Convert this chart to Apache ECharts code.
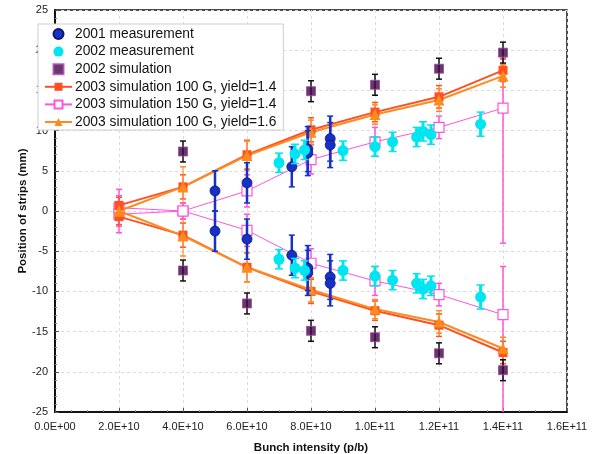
<!DOCTYPE html>
<html>
<head>
<meta charset="utf-8">
<script src="https://cdn.jsdelivr.net/npm/echarts@6/dist/echarts.min.js"></script>
<style>html,body{margin:0;padding:0;background:#fff}#c{width:597px;height:454px}</style>
</head>
<body>
<div id="c"></div>
<script>
// ---- tick labels ----
const xTickLabels = ['0.0E+00','2.0E+10','4.0E+10','6.0E+10','8.0E+10','1.0E+11','1.2E+11','1.4E+11','1.6E+11'];
const yTickLabels = ['-25','-20','-15','-10','-5','0','5','10','15','20','25'];

// ---- 2001 measurement ----
const m01X   = [5.0e10, 6.0e10, 7.4e10, 7.9e10, 7.9e10, 8.6e10, 8.6e10];
const m01Up  = [2.5, 3.5, 5.5, 7.7, 7.2, 9.0, 8.2];
const m01Dn  = [-2.5, -3.5, -5.5, -7.1, -7.7, -8.2, -9.0];
const m01Err = [2.5, 2.5, 2.5, 2.8, 2.8, 2.8, 2.8];

// ---- 2002 measurement ----
const m02X   = [7.0e10, 7.5e10, 7.8e10, 9.0e10, 1.0e11, 1.055e11, 1.13e11, 1.15e11, 1.175e11, 1.33e11];
const m02Up  = [6.0, 7.1, 7.6, 7.5, 8.0, 8.6, 9.2, 9.9, 9.5, 10.8];
const m02Dn  = [-6.0, -7.1, -7.4, -7.4, -8.1, -8.6, -9.0, -9.7, -9.3, -10.7];
const m02Err = [1.2, 1.2, 1.2, 1.2, 1.2, 1.2, 1.2, 1.2, 1.2, 1.5];

// ---- 2002 simulation ----
const s02X   = [4e10, 6e10, 8e10, 1e11, 1.2e11, 1.4e11];
const s02Up  = [7.4, 11.5, 14.9, 15.7, 17.7, 19.7];
const s02Dn  = [-7.4, -11.5, -14.9, -15.7, -17.7, -19.8];
const s02Err = [1.3, 1.3, 1.3, 1.3, 1.3, 1.3];

// ---- 2003 simulations ----
const simX = [2e10, 4e10, 6e10, 8e10, 1e11, 1.2e11, 1.4e11];
const s100a14Up  = [0.7, 3.0, 7.0, 10.1, 12.3, 14.2, 17.5];
const s100a14Dn  = [-0.7, -3.0, -7.0, -10.0, -12.4, -14.2, -17.6];
const s100a14Err = [1.0, 1.5, 1.8, 1.5, 1.2, 1.4, 1.4];

const s150Up       = [0.4, 0.0, 2.5, 6.4, 8.6, 10.4, 12.8];
const s150Dn       = [-0.4, 0.0, -2.4, -6.5, -8.7, -10.4, -12.9];
const s150ErrPlus  = [2.3, 1.0, 2.0, 1.8, 1.8, 1.4, 6.2];
const s150ErrMinus = [2.3, 1.0, 2.0, 1.8, 1.8, 1.4, 16.8];
const s150DnErrPlus  = [2.3, 1.0, 2.0, 1.8, 1.8, 1.4, 6.0];
const s150DnErrMinus = [2.3, 1.0, 2.0, 1.8, 1.8, 1.4, 13.5];

const s100a16Up  = [0.0, 3.0, 6.9, 9.8, 12.0, 13.8, 16.8];
const s100a16Dn  = [0.0, -3.1, -7.0, -9.8, -12.2, -13.8, -17.1];
const s100a16Err = [1.0, 2.5, 1.8, 1.5, 1.2, 1.4, 1.4];

const names = ['2001 measurement','2002 measurement','2002 simulation',
  '2003 simulation 100 G, yield=1.4','2003 simulation 150 G, yield=1.4','2003 simulation 100 G, yield=1.6'];

const C01 = '#1630c8', C02 = '#00e6f0', CS02 = '#3a0c3e', CR = '#ff5020', CM = '#ff55dd', CO = '#ff8a1e';

function pts(xs, ys) { return xs.map((x, i) => [x, ys[i]]); }
function errs(xs, ys, minus, plus) { return xs.map((x, i) => [x, ys[i] - minus[i], ys[i] + (plus || minus)[i]]); }

function errSeries(data, color, width, cap, z) {
  return {
    type: 'custom', name: '_err', z: z, silent: true,
    renderItem: function (params, api) {
      const cs = params.coordSys;
      const x = api.value(0), lo = api.value(1), hi = api.value(2);
      const pLo = api.coord([x, lo]), pHi = api.coord([x, hi]);
      const top = cs.y, bot = cs.y + cs.height;
      const yTop = Math.max(top, pHi[1]), yBot = Math.min(bot, pLo[1]);
      const ch = [{ type: 'line', shape: { x1: pLo[0], y1: yBot, x2: pLo[0], y2: yTop }, style: { stroke: color, lineWidth: width } }];
      if (pHi[1] >= top) ch.push({ type: 'line', shape: { x1: pHi[0] - cap, y1: pHi[1], x2: pHi[0] + cap, y2: pHi[1] }, style: { stroke: color, lineWidth: 1.5 } });
      if (pLo[1] <= bot) ch.push({ type: 'line', shape: { x1: pLo[0] - cap, y1: pLo[1], x2: pLo[0] + cap, y2: pLo[1] }, style: { stroke: color, lineWidth: 1.5 } });
      return { type: 'group', children: ch };
    },
    data: data
  };
}

function lineSeries(name, ys, color, symbol, size, lw, z, empty) {
  return {
    type: 'line', name: name, data: pts(simX, ys), z: z,
    symbol: symbol, symbolSize: size,
    lineStyle: { color: color, width: lw },
    itemStyle: empty ? { color: '#fff', borderColor: color, borderWidth: 1.2, opacity: 1 } : { color: color, borderColor: color, borderWidth: 0 },
    emphasis: { disabled: true }
  };
}

const SQ = 'path://M0,0H10V10H0Z';

const series = [
  // error bars
  errSeries(errs(simX, s150Up, s150ErrMinus, s150ErrPlus), CM, 1.5, 3, 2),
  errSeries(errs(simX, s150Dn, s150DnErrMinus, s150DnErrPlus), CM, 1.5, 3, 2),
  errSeries(errs(simX, s100a14Up, s100a14Err), CR, 1, 3, 2),
  errSeries(errs(simX, s100a14Dn, s100a14Err), CR, 1, 3, 2),
  errSeries(errs(simX, s100a16Up, s100a16Err), CO, 1, 3, 2),
  errSeries(errs(simX, s100a16Dn, s100a16Err), CO, 1, 3, 2),
  errSeries(errs(s02X, s02Up, s02Err), '#111', 1.5, 3, 5),
  errSeries(errs(s02X, s02Dn, s02Err), '#111', 1.5, 3, 5),
  errSeries(errs(m01X, m01Up, m01Err), C01, 2.5, 3, 6),
  errSeries(errs(m01X, m01Dn, m01Err), C01, 2.5, 3, 6),
  errSeries(errs(m02X, m02Up, m02Err), C02, 3, 4, 7),
  errSeries(errs(m02X, m02Dn, m02Err), C02, 3, 4, 7),
  // lines
  lineSeries(names[4], s150Up, CM, 'rect', 10, 1, 3, true),
  lineSeries(names[4], s150Dn, CM, 'rect', 10, 1, 3, true),
  lineSeries(names[3], s100a14Up, CR, 'rect', 9, 2, 4),
  lineSeries(names[3], s100a14Dn, CR, 'rect', 9, 2, 4),
  lineSeries(names[5], s100a16Up, CO, 'triangle', 11, 2, 4),
  lineSeries(names[5], s100a16Dn, CO, 'triangle', 11, 2, 4),
  // scatter
  { type: 'scatter', name: names[2], data: pts(s02X, s02Up), symbol: 'rect', symbolSize: 9, z: 5,
    itemStyle: { color: CS02, borderColor: '#b23bb8', borderWidth: 1 } },
  { type: 'scatter', name: names[2], data: pts(s02X, s02Dn), symbol: 'rect', symbolSize: 9, z: 5,
    itemStyle: { color: CS02, borderColor: '#b23bb8', borderWidth: 1 } },
  { type: 'scatter', name: names[1], data: pts(m02X, m02Up), symbol: 'circle', symbolSize: 11, z: 7,
    itemStyle: { color: C02, opacity: 1 } },
  { type: 'scatter', name: names[1], data: pts(m02X, m02Dn), symbol: 'circle', symbolSize: 11, z: 7,
    itemStyle: { color: C02, opacity: 1 } },
  { type: 'scatter', name: names[0], data: pts(m01X, m01Up), symbol: 'circle', symbolSize: 10, z: 6,
    itemStyle: { color: C01, borderColor: '#0b1670', borderWidth: 0.8, opacity: 1 } },
  { type: 'scatter', name: names[0], data: pts(m01X, m01Dn), symbol: 'circle', symbolSize: 10, z: 6,
    itemStyle: { color: C01, borderColor: '#0b1670', borderWidth: 0.8, opacity: 1 } }
];

const FONT = 'Liberation Sans, Arial, Helvetica, sans-serif';
const chart = echarts.init(document.getElementById('c'), null, { renderer: 'canvas' });
chart.setOption({
  animation: false,
  backgroundColor: '#fff',
  textStyle: { fontFamily: FONT },
  grid: { left: 55, right: 30, top: 10, bottom: 42, outerBoundsMode: 'none', containLabel: false,
    show: true, borderColor: '#111', borderWidth: 1.5, backgroundColor: 'transparent' },
  legend: {
    data: [
      { name: names[0], icon: 'circle' },
      { name: names[1], icon: 'circle' },
      { name: names[2], icon: SQ },
      { name: names[3] },
      { name: names[4] },
      { name: names[5] }
    ],
    orient: 'vertical', left: 38, top: 24, symbolKeepAspect: true,
    backgroundColor: '#fff', borderColor: '#cfcfcf', borderWidth: 1,
    padding: [3, 7, 1, 6], itemGap: 3.6, itemWidth: 27, itemHeight: 10,
    textStyle: { fontSize: 13.8, color: '#111', fontFamily: FONT, padding: [0, 0, 0, -2] }, selectedMode: false, z: 20
  },
  xAxis: {
    type: 'value', min: 0, max: 1.6e11, interval: 2e10,
    name: 'Bunch intensity (p/b)', nameLocation: 'middle', nameGap: 30,
    nameTextStyle: { fontWeight: 'bold', fontSize: 11.5, color: '#111' },
    axisLine: { show: true, onZero: false, lineStyle: { color: '#111', width: 2 } },
    axisTick: { show: true, inside: true, length: 4, lineStyle: { color: '#555' } },
    minorTick: { show: true, splitNumber: 4, length: 2, lineStyle: { color: '#888' } },
    axisLabel: { fontSize: 11, color: '#222', margin: 9, formatter: v => xTickLabels[Math.round(v / 2e10)] },
    splitLine: { show: true, lineStyle: { color: '#dcdcdc', type: [3, 3] } }
  },
  yAxis: {
    type: 'value', min: -25, max: 25, interval: 5,
    name: 'Position of strips (mm)', nameLocation: 'middle', nameGap: 26, nameMoveOverlap: false,
    nameTextStyle: { fontWeight: 'bold', fontSize: 11.5, color: '#111' },
    axisLine: { show: true, onZero: false, lineStyle: { color: '#111', width: 2 } },
    axisTick: { show: true, inside: true, length: 4, lineStyle: { color: '#555' } },
    minorTick: { show: true, splitNumber: 5, length: 2, lineStyle: { color: '#888' } },
    axisLabel: { fontSize: 11, color: '#222', margin: 7, formatter: v => yTickLabels[Math.round((v + 25) / 5)] },
    splitLine: { show: true, lineStyle: { color: '#dcdcdc', type: [3, 3] } }
  },
  series: series
});
</script>
</body>
</html>
